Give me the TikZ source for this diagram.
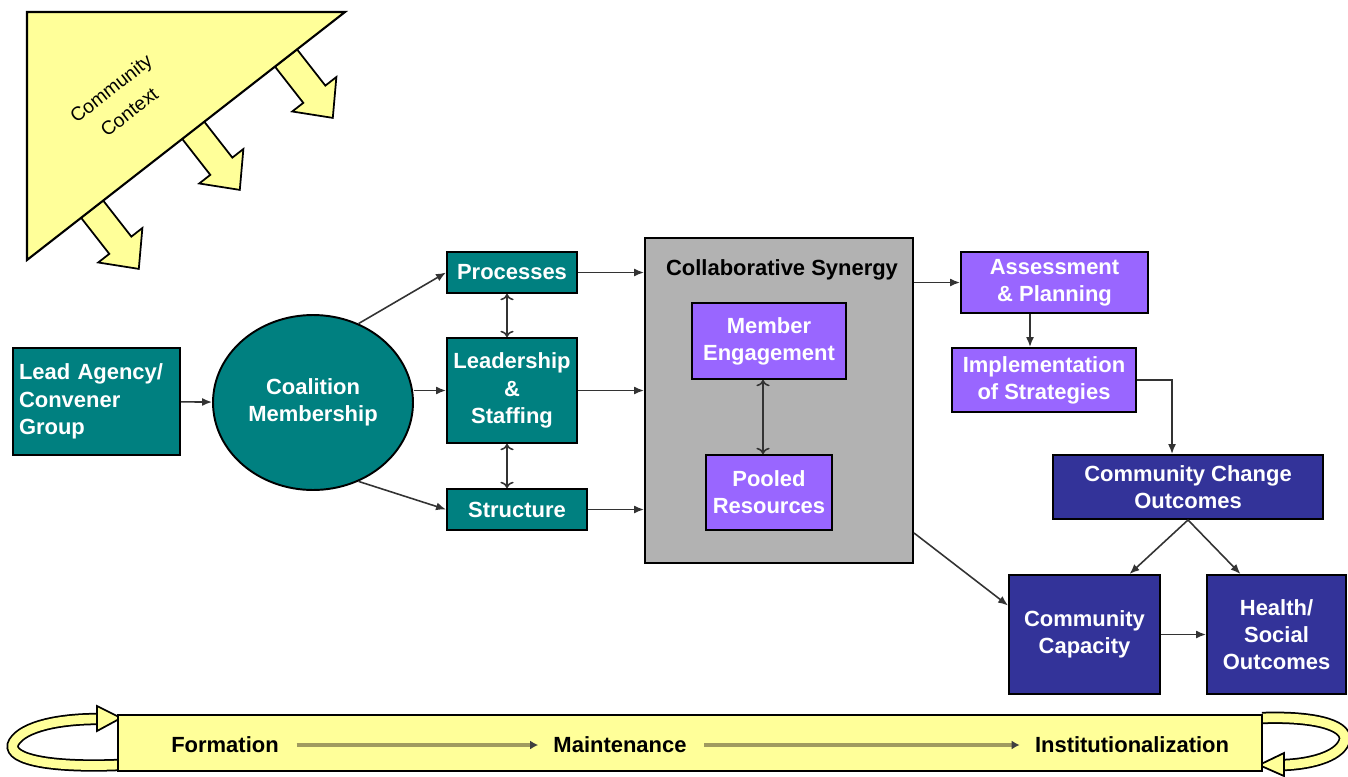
\documentclass[tikz,border=0pt]{standalone}
\usepackage{fontspec}
\setmainfont{Liberation Sans}
\usetikzlibrary{shapes.geometric,arrows.meta}

\definecolor{ctxyellow}{RGB}{255,255,153}
\definecolor{coalteal}{RGB}{0,128,128}
\definecolor{synviolet}{RGB}{153,102,255}
\definecolor{outnavy}{RGB}{51,51,153}
\definecolor{syngray}{RGB}{178,178,178}
\definecolor{phaseolive}{RGB}{160,155,95}

\begin{document}
\begin{tikzpicture}[x=0.02cm, y=-0.02cm,
    every node/.style={inner sep=0.05cm, font=\fontsize{12.5}{15.5}\selectfont\bfseries},
    box/.style={draw, line width=1.1pt, text=white, align=center},
    tealbox/.style={box, fill=coalteal},
    violetbox/.style={box, fill=synviolet},
    navybox/.style={box, fill=outnavy},
    conn/.style={draw=black!80, line width=0.9pt, -{Latex[length=2mm,width=1.6mm]}},
    phase/.style={draw=phaseolive, line width=2.2pt, shorten <=0.3cm, shorten >=0.25cm,
      -{Latex[length=1.6mm,width=1.8mm,color=black!75]}},
    ctxarrow/.style={draw, line width=1pt, fill=ctxyellow, line join=miter}
  ]
  \useasboundingbox (0,0) rectangle (1348,777);

  % Community context triangle & its block arrows
  \foreach \px/\py in {92/209, 193/130, 286/58} {
    \begin{scope}[shift={(\px,\py)}, rotate=-52]
      \draw[ctxarrow] (0,-14) -- (46,-14) -- (46,-28) -- (76,0) -- (46,28) -- (46,14) -- (0,14) -- cycle;
    \end{scope}
  }
  \draw[line width=1.2pt, fill=ctxyellow] (27,12) -- (345,12) -- (27,260) -- cycle;
  \node[rotate=38, align=center, font=\fontsize{11}{17}\selectfont] (ctx) at (120,100) {Community\\Context};

  % Formation side
  \node[tealbox, minimum width=3.34cm, minimum height=2.14cm, text width=3.1cm, align=left]
    (lead) at (96.5,401.5) {Lead Agency/\\Convener\\Group};
  \node[tealbox, ellipse, minimum width=4cm, minimum height=3.5cm]
    (coal) at (313,402.5) {Coalition\\Membership};
  \node[tealbox, minimum width=2.6cm, minimum height=0.82cm] (proc) at (512,272.5) {Processes};
  \node[tealbox, minimum width=2.6cm, minimum height=2.1cm] (ldr) at (512,390.5) {Leadership\\\&\\Staffing};
  \node[tealbox, minimum width=2.8cm, minimum height=0.82cm] (struc) at (517,509.5) {Structure};

  % Collaborative synergy
  \node[draw, line width=1.1pt, fill=syngray, minimum width=5.36cm, minimum height=6.5cm]
    (syn) at (779,400.5) {};
  \node (syntitle) at (782,270) {Collaborative Synergy};
  \node[violetbox, minimum width=3.08cm, minimum height=1.52cm] (memb) at (769,341) {Member\\Engagement};
  \node[violetbox, minimum width=2.52cm, minimum height=1.5cm] (pool) at (769,492.5) {Pooled\\Resources};

  % Outcomes side
  \node[violetbox, minimum width=3.74cm, minimum height=1.22cm] (assess) at (1054.5,282.5) {Assessment\\\& Planning};
  \node[violetbox, minimum width=3.68cm, minimum height=1.28cm] (impl) at (1044,380) {Implementation\\of Strategies};
  \node[navybox, minimum width=5.4cm, minimum height=1.28cm] (change) at (1188,487) {Community Change\\Outcomes};
  \node[navybox, minimum width=3.02cm, minimum height=2.38cm] (cap) at (1084.5,634.5) {Community\\Capacity};
  \node[navybox, minimum width=2.78cm, minimum height=2.38cm] (health) at (1276.5,634.5) {Health/\\Social\\Outcomes};

  % Connectors
  \draw[conn] (lead) -- (coal);
  \draw[conn] (coal.60) -- (proc.west);
  \draw[conn] (coal.east |- ldr.west) -- (ldr.west);
  \draw[conn] (coal.-60) -- (struc.west);
  \draw[conn, <->] ([xshift=-0.1cm]proc.south) -- ([xshift=-0.1cm]ldr.north);
  \draw[conn, <->] ([xshift=-0.1cm]ldr.south) -- ([xshift=-0.1cm]ldr.south |- struc.north);
  \foreach \b in {proc, ldr, struc} {
    \draw[conn] (\b.east) -- (\b.east -| syn.west);
  }
  \draw[conn, <->] ([xshift=-0.12cm]memb.south) -- ([xshift=-0.12cm]pool.north);
  \draw[conn] (syn.east |- assess.west) -- (assess.west);
  \draw[conn] ([xshift=-0.28cm]impl.north |- assess.south) -- ([xshift=-0.28cm]impl.north);
  \draw[conn] (impl.east) -| ([xshift=-0.32cm]change.north);
  \draw[conn] ([yshift=0.62cm]syn.south east) -- ([yshift=0.58cm]cap.west);
  \draw[conn] (change.south) -- ([xshift=0.9cm]cap.north);
  \draw[conn] (change.south) -- ([xshift=-0.72cm]health.north);
  \draw[conn] (cap.east) -- (health.west);

  % Phase banner with its curls
  \draw[line width=1pt, double=ctxyellow, double distance=5pt]
    (118,765) .. controls (40,768) and (5,757) .. (14,742) .. controls (24,726) and (60,719) .. (98,719);
  \draw[line width=1pt, fill=ctxyellow] (121,718) -- (97,706) -- (97,731) -- cycle;
  \draw[line width=1pt, double=ctxyellow, double distance=5pt]
    (1262,718) .. controls (1320,716) and (1350,727) .. (1344,742) .. controls (1338,757) and (1310,764) .. (1284,765);
  \draw[line width=1pt, fill=ctxyellow] (1259,765) -- (1284,753) -- (1284,776) -- cycle;
  \node[draw, line width=1.1pt, fill=ctxyellow, minimum width=22.88cm, minimum height=1.12cm]
    (banner) at (690,743) {};
  \node (form) at (225,745) {Formation};
  \node (maint) at (620,745) {Maintenance};
  \node (inst) at (1132,745) {Institutionalization};
  \draw[phase] (form) -- (maint);
  \draw[phase] (maint) -- (inst);
\end{tikzpicture}
\end{document}
